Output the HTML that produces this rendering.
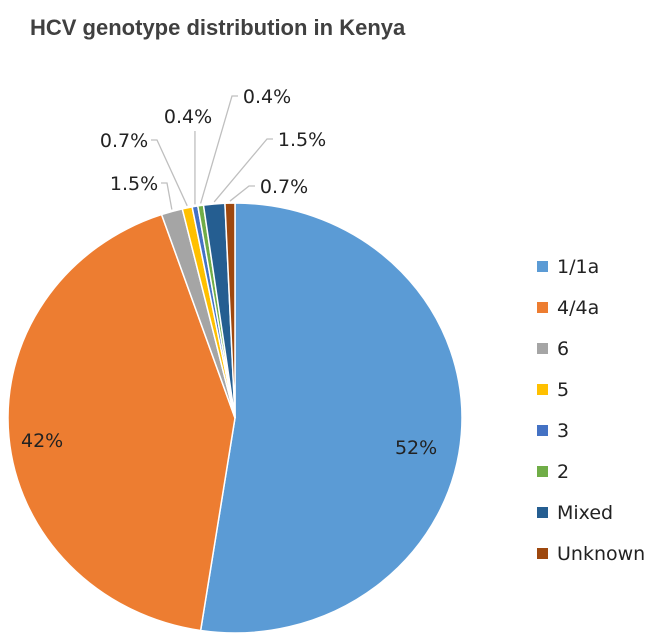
<!DOCTYPE html>
<html><head><meta charset="utf-8"><style>
body{margin:0;background:#fff;}
svg{display:block;font-family:"Liberation Sans",sans-serif;}
.lbl{font-family:"DejaVu Sans",sans-serif;}
</style></head><body>
<svg id="chart" width="661" height="643">
<text x="30" y="35" font-size="22" font-weight="bold" fill="#404040">HCV  genotype distribution in Kenya</text>
<g id="slices"></g><g id="leaders"></g><g id="labels"></g><g id="legend"></g>
</svg>
<script>
const categories=["1/1a","4/4a","6","5","3","2","Mixed","Unknown"];
const values=[52,42,1.5,0.7,0.4,0.4,1.5,0.7];
const valueLabels=["52%","42%","1.5%","0.7%","0.4%","0.4%","1.5%","0.7%"];
const colors=["#5b9bd5","#ed7d31","#a5a5a5","#ffc000","#4472c4","#70ad47","#255e91","#9e480e"];
const outsideLabelPos=[null,null,[134,190],[124,147],[188,123],[267,103],[302,146],[284,193]];
const insideLabelShift=[[0,16],[-12,7]];
const cx=235,cy=418,rx=227,ry=215;
const NS="http://www.w3.org/2000/svg";
const total=values.reduce((a,b)=>a+b,0);
function pt(a,f){return [cx+rx*f*Math.sin(a),cy-ry*f*Math.cos(a)];}
const gS=document.getElementById('slices'),gL=document.getElementById('leaders'),gT=document.getElementById('labels'),gG=document.getElementById('legend');
let a0=0;
values.forEach((v,i)=>{
 const a1=a0+v/total*2*Math.PI;
 const p0=pt(a0,1),p1=pt(a1,1);
 const large=(a1-a0)>Math.PI?1:0;
 const p=document.createElementNS(NS,'path');
 p.setAttribute('d',`M${cx},${cy}L${p0[0]},${p0[1]}A${rx},${ry} 0 ${large} 1 ${p1[0]},${p1[1]}Z`);
 p.setAttribute('fill',colors[i]);p.setAttribute('stroke','#fff');p.setAttribute('stroke-width','1.5');
 
 
 gS.appendChild(p);
 const am=(a0+a1)/2;
 const t=document.createElementNS(NS,'text');
 t.setAttribute('class','lbl');
 t.setAttribute('font-size','19');t.setAttribute('fill','#222');t.setAttribute('text-anchor','middle');
 t.textContent=valueLabels[i];
 
 
 if(outsideLabelPos[i]){
  const [lx,ly]=outsideLabelPos[i];
  t.setAttribute('x',lx);t.setAttribute('y',ly);
  const e=pt(am,1.0);
  const l=document.createElementNS(NS,'polyline');
  const left=lx<e[0];
  const sx=left?lx+27:lx-29, sy=ly-7;
  const midx=left?sx+6:sx-6;
  l.setAttribute('points',`${sx},${sy} ${midx},${sy} ${e[0]},${e[1]-2}`);
  if(Math.abs(lx-e[0])<10) l.setAttribute('points',`${e[0]},${ly+8} ${e[0]},${e[1]-2}`);
  l.setAttribute('fill','none');l.setAttribute('stroke','#bfbfbf');l.setAttribute('stroke-width','1.3');
  
  
  gL.appendChild(l);
 }else{
  const q=pt(am,0.8);
  const s=insideLabelShift[i]||[0,0];
  t.setAttribute('x',q[0]+s[0]);t.setAttribute('y',q[1]+7+s[1]);
 }
 gT.appendChild(t);
 const ly=266+i*41;
 const r=document.createElementNS(NS,'rect');
 r.setAttribute('x',537);r.setAttribute('y',ly-5);r.setAttribute('width',11);r.setAttribute('height',11);r.setAttribute('fill',colors[i]);
 
 
 gG.appendChild(r);
 const lt=document.createElementNS(NS,'text');
 lt.setAttribute('class','lbl');
 lt.setAttribute('x',557);lt.setAttribute('y',ly+7);lt.setAttribute('font-size','19');lt.setAttribute('fill','#222');
 lt.textContent=categories[i];
 
 
 gG.appendChild(lt);
 a0=a1;
});
</script>
</body></html>
